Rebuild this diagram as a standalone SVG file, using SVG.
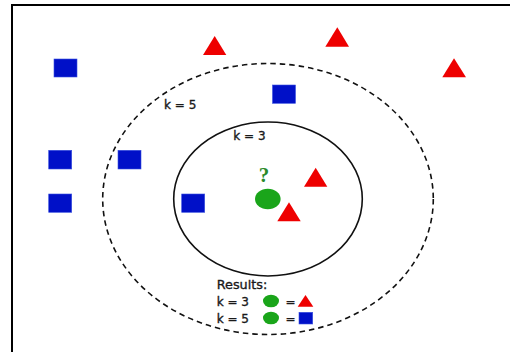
<svg xmlns="http://www.w3.org/2000/svg" width="510" height="352" viewBox="0 0 510 352">
<style>
.sq{fill:#0010c8;stroke:#3a50e0;stroke-width:0.6}
.tri{fill:#ee0000}
.dot{fill:#1aa51a}
.lbl{font-family:"DejaVu Sans",sans-serif;font-size:12px;fill:#1a1a1a;stroke:#1a1a1a;stroke-width:0.35}
</style>
<rect x="0" y="0" width="510" height="352" fill="#fff"/>
<path d="M12 352 V5 H510" fill="none" stroke="#000" stroke-width="2"/>
<g id="connectors">
<ellipse id="k5-circle" cx="268" cy="199" rx="165.3" ry="135.5" fill="none" stroke="#111" stroke-width="1.6" stroke-dasharray="5.5 4"/>
<ellipse id="k3-circle" cx="268" cy="199" rx="94.3" ry="77" fill="none" stroke="#111" stroke-width="1.6"/>
</g>
<g id="sq1"><rect class="sq" x="54" y="59" width="23" height="18"/></g>
<g id="sq2"><rect class="sq" x="272.5" y="85" width="23" height="18.3"/></g>
<g id="sq3"><rect class="sq" x="48.7" y="150.3" width="23" height="18.7"/></g>
<g id="sq4"><rect class="sq" x="118" y="150.3" width="23" height="18.7"/></g>
<g id="sq5"><rect class="sq" x="48.7" y="194" width="23" height="18.3"/></g>
<g id="sq6"><rect class="sq" x="181.7" y="194" width="23" height="18.3"/></g>
<g id="tri1"><polygon class="tri" points="214.7,36 226.3,55 203,55"/></g>
<g id="tri2"><polygon class="tri" points="337.3,27.3 349,46.7 325.3,46.7"/></g>
<g id="tri3"><polygon class="tri" points="454,58.3 466,77.3 442.3,77.3"/></g>
<g id="tri4"><polygon class="tri" points="315.7,167.7 327.3,186.7 304,186.7"/></g>
<g id="tri5"><polygon class="tri" points="289,202.3 300.7,221.3 277.3,221.3"/></g>
<g id="query">
<ellipse class="dot" cx="267.8" cy="199" rx="12.8" ry="10.3"/>
<text x="264" y="181.5" font-family="'Liberation Serif',serif" font-size="21" font-weight="bold" fill="#2a8a2a" text-anchor="middle">?</text>
</g>
<g id="label-k5"><text class="lbl" x="164" y="109">k = 5</text></g>
<g id="label-k3"><text class="lbl" x="233.3" y="140">k = 3</text></g>
<g id="results">
<text class="lbl" x="216.7" y="288.7" style="font-size:12.8px">Results:</text>
<text class="lbl" x="216.7" y="305.7">k = 3</text>
<text class="lbl" x="216.7" y="322.7">k = 5</text>
<ellipse class="dot" cx="271" cy="301" rx="8" ry="6.3"/>
<ellipse class="dot" cx="271" cy="318" rx="8" ry="6.3"/>
<text class="lbl" x="285.5" y="305.7">=</text>
<text class="lbl" x="285.5" y="322.7">=</text>
<polygon class="tri" points="305.5,295 313.3,306.7 297.7,306.7"/>
<rect class="sq" x="299" y="312.3" width="13.7" height="11.7"/>
</g>
</svg>
